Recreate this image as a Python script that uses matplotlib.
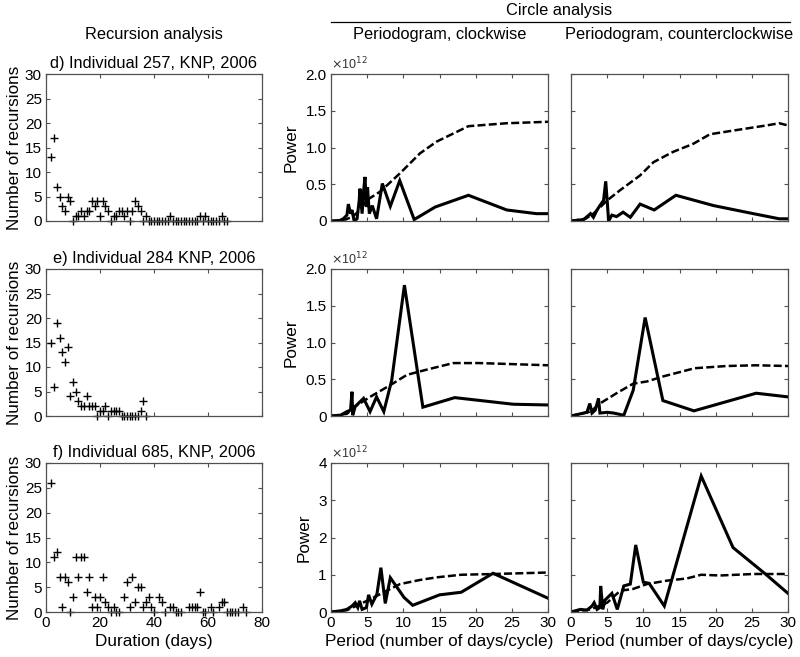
import matplotlib
matplotlib.use("Agg")
import matplotlib.pyplot as plt
from matplotlib.lines import Line2D

plt.rcParams['font.family'] = ['Liberation Sans', 'DejaVu Sans']

# Recursion analysis: duration (days) vs number of recursions
d_dur = list(range(2, 68))
d_cnt = [13, 17, 7, 5, 3, 2, 5, 4, 0, 1, 1, 2, 1, 2, 2, 4, 3, 4, 1, 4,
         3, 2, 0, 1, 1, 2, 2, 1, 2, 0, 2, 4, 3, 2, 0, 1, 0, 0, 0, 0,
         0, 0, 0, 0, 1, 0, 0, 0, 0, 0, 0, 0, 0, 0, 0, 1, 0, 1, 0, 0,
         0, 0, 0, 1, 0, 0]

e_dur = list(range(2, 38))
e_cnt = [15, 6, 19, 16, 13, 11, 14, 4, 7, 5, 3, 2, 2, 4, 2, 2, 2, 0, 1, 1,
         2, 0, 1, 1, 1, 1, 0, 0, 0, 0, 0, 0, 0, 1, 3, 0]

f_dur = [2, 3, 4, 5, 6, 7, 8, 9, 10, 11, 12, 13, 14, 15, 16, 17, 18, 19, 20, 21,
         22, 23, 24, 25, 26, 27, 29, 30, 31, 32, 33, 34, 35, 36, 37, 38, 39, 40, 42, 43,
         44, 46, 47, 48, 49, 50, 53, 54, 55, 56, 57, 58, 59, 61, 62, 64, 65, 66, 67, 68,
         69, 70, 71, 73, 74]
f_cnt = [26, 11, 12, 7, 1, 7, 6, 0, 3, 11, 7, 11, 11, 4, 7, 1, 3, 1, 3, 7,
         2, 1, 0, 1, 0, 0, 3, 6, 1, 7, 2, 5, 5, 1, 2, 3, 1, 0, 3, 2,
         0, 1, 1, 0, 0, 0, 1, 1, 1, 1, 4, 0, 0, 1, 0, 1, 2, 2, 0, 0,
         0, 0, 0, 1, 0]

# Periodograms (power in units of 1e12)
d_cw_per = [0, 1.06, 1.7, 2.2, 2.4, 2.7, 2.9, 3.2, 3.6, 3.9, 4.0, 4.3, 4.5, 4.7, 4.9,
            5.05, 5.3, 5.7, 6.3, 7.1, 8.2, 9.5, 11.5, 14.4, 19, 24.3, 28.4, 30]
d_cw_pow = [0, 0, 0.03, 0.08, 0.23, 0.1, 0.15, 0, 0.03, 0.28, 0.44, 0.1, 0.4, 0.6, 0.19,
            0.46, 0.1, 0.21, 0.03, 0.51, 0.2, 0.55, 0.02, 0.19, 0.35, 0.15, 0.1, 0.1]
d_cw_thr_per = [0, 2, 3, 4, 5.05, 6.8, 9.55, 12.3, 14.6, 19, 24.3, 30]
d_cw_thr = [0, 0.02, 0.06, 0.15, 0.29, 0.4, 0.65, 0.92, 1.08, 1.29, 1.33, 1.35]

d_ccw_per = [0, 1.75, 2.7, 3.1, 3.6, 4.0, 4.5, 4.8, 5.0, 5.2, 5.65, 6.3, 7.2, 8.2,
             9.55, 11.5, 14.5, 19.7, 25.2, 28.8, 30]
d_ccw_pow = [0, 0.02, 0.1, 0.05, 0.15, 0.21, 0.28, 0.54, 0.28, 0, 0.08, 0.06, 0.12, 0.05,
             0.23, 0.15, 0.35, 0.21, 0.1, 0.03, 0.03]
d_ccw_thr_per = [0, 2, 3.1, 5.0, 6.8, 9.55, 11.4, 14.1, 16.9, 19.2, 22.4, 27, 28.8, 30]
d_ccw_thr = [0, 0.03, 0.1, 0.28, 0.42, 0.62, 0.8, 0.94, 1.05, 1.18, 1.23, 1.3, 1.33, 1.3]

e_cw_per = [0, 1.3, 2.2, 2.7, 2.9, 3.0, 3.35, 4.5, 5.4, 6.3, 7.3, 8.4, 10.15, 12.7,
            17.1, 25.2, 30]
e_cw_pow = [0, 0.01, 0.06, 0.08, 0.33, 0.01, 0.13, 0.24, 0.06, 0.26, 0.06, 0.49, 1.78, 0.12,
            0.25, 0.16, 0.15]
e_cw_thr_per = [0, 2.2, 3.35, 5.4, 8.2, 10.5, 13.2, 16.9, 20.6, 30]
e_cw_thr = [0, 0.03, 0.13, 0.26, 0.42, 0.56, 0.63, 0.72, 0.72, 0.69]

e_ccw_per = [0, 1.3, 2.2, 2.6, 2.9, 3.35, 3.8, 4.0, 5.0, 5.9, 7.3, 8.6, 10.25, 12.7,
             17, 25.6, 30]
e_ccw_pow = [0, 0.03, 0.05, 0.17, 0.04, 0.08, 0.24, 0.04, 0.05, 0.04, 0.01, 0.35, 1.34, 0.21,
             0.07, 0.31, 0.26]
e_ccw_thr_per = [0, 2.7, 4.0, 6.3, 8.6, 10.5, 12.8, 17.1, 21.5, 25.6, 30]
e_ccw_thr = [0, 0.06, 0.17, 0.31, 0.44, 0.47, 0.54, 0.65, 0.68, 0.69, 0.68]

f_cw_per = [0, 1.3, 2.2, 2.9, 3.35, 3.7, 3.95, 4.3, 4.9, 5.2, 5.65, 6.35, 6.9, 7.5,
            8.2, 10.1, 11.3, 15, 18, 22.4, 30]
f_cw_pow = [0, 0.03, 0.07, 0.16, 0.25, 0.12, 0.3, 0.07, 0.12, 0.46, 0.21, 0.48, 1.19, 0.23,
            0.92, 0.39, 0.18, 0.46, 0.53, 1.04, 0.37]
f_cw_thr_per = [0, 2.2, 4.0, 5.9, 7.7, 9.55, 12.3, 14.6, 18, 22.4, 30]
f_cw_thr = [0, 0.05, 0.21, 0.39, 0.57, 0.75, 0.86, 0.93, 1.0, 1.02, 1.06]

f_ccw_per = [0, 1.3, 2.2, 2.9, 3.2, 3.6, 4.0, 4.1, 4.4, 4.7, 5.65, 6.4, 7.3, 8.2,
             8.95, 10, 10.8, 12.9, 18, 22.4, 27, 30]
f_ccw_pow = [0, 0.07, 0.05, 0.16, 0.25, 0.07, 0.12, 0.7, 0.07, 0.32, 0.5, 0.07, 0.7, 0.75,
             1.8, 0.8, 0.77, 0.16, 3.65, 1.73, 1.0, 0.5]
f_ccw_thr_per = [0, 2.7, 5.0, 6.8, 8.6, 10.5, 13.2, 16, 18, 20.6, 25.2, 30]
f_ccw_thr = [0, 0.07, 0.25, 0.57, 0.62, 0.75, 0.84, 0.9, 1.0, 0.98, 1.02, 1.02]

row_titles = ["d) Individual 257, KNP, 2006",
              "e) Individual 284 KNP, 2006",
              "f) Individual 685, KNP, 2006"]
rec_data = [(d_dur, d_cnt), (e_dur, e_cnt), (f_dur, f_cnt)]
cw_data = [(d_cw_per, d_cw_pow, d_cw_thr_per, d_cw_thr),
           (e_cw_per, e_cw_pow, e_cw_thr_per, e_cw_thr),
           (f_cw_per, f_cw_pow, f_cw_thr_per, f_cw_thr)]
ccw_data = [(d_ccw_per, d_ccw_pow, d_ccw_thr_per, d_ccw_thr),
            (e_ccw_per, e_ccw_pow, e_ccw_thr_per, e_ccw_thr),
            (f_ccw_per, f_ccw_pow, f_ccw_thr_per, f_ccw_thr)]
power_max = [2.0, 2.0, 4.0]
power_ticks = [[0, 0.5, 1.0, 1.5, 2.0], [0, 0.5, 1.0, 1.5, 2.0], [0, 1, 2, 3, 4]]
power_labels = [["0", "0.5", "1.0", "1.5", "2.0"], ["0", "0.5", "1.0", "1.5", "2.0"],
                ["0", "1", "2", "3", "4"]]

W, H = 800, 657
fig = plt.figure(figsize=(8, 6.57), dpi=100)

col_x = [46, 331, 571]
col_w = [216, 217, 217]
row_y = [(74, 221), (269, 416), (463, 612)]

spine_col = "#505050"
tick_fs = 11
label_fs = 12.3
header_fs = 11.8


def style_axes(ax):
    for s in ax.spines.values():
        s.set_color(spine_col)
        s.set_linewidth(0.9)
    ax.tick_params(direction='in', top=True, right=True, length=3,
                   width=0.8, color=spine_col, labelsize=tick_fs, pad=3)


for r in range(3):
    y0, y1 = row_y[r]
    rect = lambda c: [col_x[c] / W, 1 - y1 / H, col_w[c] / W, (y1 - y0) / H]

    # Recursion scatter
    ax = fig.add_axes(rect(0))
    dur, cnt = rec_data[r]
    ax.plot(dur, cnt, linestyle='none', marker='+', color='black',
            markersize=6, markeredgewidth=1.0, clip_on=False)
    ax.set_xlim(0, 80)
    ax.set_ylim(0, 30)
    ax.set_xticks([0, 20, 40, 60, 80])
    ax.set_yticks([0, 5, 10, 15, 20, 25, 30])
    style_axes(ax)
    ax.set_ylabel("Number of recursions", fontsize=label_fs, labelpad=2)
    ax.set_title(row_titles[r], fontsize=header_fs, pad=4)
    if r < 2:
        ax.tick_params(labelbottom=False)
    else:
        ax.set_xlabel("Duration (days)", fontsize=label_fs, labelpad=3)

    # Periodograms
    for c, data in ((1, cw_data[r]), (2, ccw_data[r])):
        ax = fig.add_axes(rect(c))
        per, pw, tper, thr = data
        ax.plot(tper, thr, color='black', linestyle=(0, (3.2, 1.3)), linewidth=1.8)
        ax.plot(per, pw, color='black', linewidth=2.2, solid_joinstyle='miter')
        ax.set_xlim(0, 30)
        ax.set_ylim(0, power_max[r])
        ax.set_xticks([0, 5, 10, 15, 20, 25, 30])
        ax.set_yticks(power_ticks[r])
        style_axes(ax)
        if c == 1:
            ax.set_yticklabels(power_labels[r])
            ax.set_ylabel("Power", fontsize=label_fs, labelpad=5)
            ax.text(0, 1.012, r"$\times$10$^{12}$", transform=ax.transAxes,
                    fontsize=9, ha='left', va='bottom', color='#333333')
        else:
            ax.tick_params(labelleft=False)
        if r < 2:
            ax.tick_params(labelbottom=False)
        else:
            ax.set_xlabel("Period (number of days/cycle)", fontsize=label_fs, labelpad=3)

# Column headers
fig.text((col_x[0] + col_w[0] / 2) / W, 1 - 35 / H, "Recursion analysis",
         fontsize=header_fs, ha='center', va='center')
fig.text((col_x[1] + col_w[1] / 2) / W, 1 - 35 / H, "Periodogram, clockwise",
         fontsize=header_fs, ha='center', va='center')
fig.text((col_x[2] + col_w[2] / 2) / W, 1 - 35 / H, "Periodogram, counterclockwise",
         fontsize=header_fs, ha='center', va='center')
fig.text((col_x[1] + (col_x[2] + col_w[2])) / 2 / W, 1 - 10 / H, "Circle analysis",
         fontsize=header_fs, ha='center', va='center')
fig.add_artist(Line2D([col_x[1] / W, (col_x[2] + col_w[2] + 2) / W],
                      [1 - 22 / H, 1 - 22 / H], color='black', linewidth=0.9))

fig.savefig("out.png", dpi=100)
